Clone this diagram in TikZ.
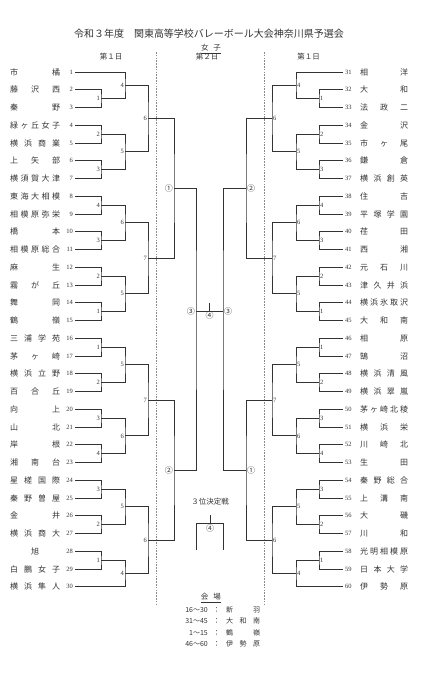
\documentclass[tikz,border=0pt]{standalone}
\usepackage{fontspec}
\setmainfont{Liberation Serif}
\newfontfamily\jp{Noto Sans CJK JP}
\usetikzlibrary{calc}
\definecolor{ink}{HTML}{333333}
\definecolor{rule}{HTML}{8A8A8A}
\tikzset{
  every node/.style={text=ink},
  bline/.style={draw=ink,line width=0.9pt},
  divline/.style={draw=rule,line width=0.6pt,dash pattern=on 1.6pt off 1.2pt},
  tnum/.style={font=\fontsize{6.5}{7}\selectfont,inner sep=2pt},
  tname/.style={font=\jp\fontsize{8}{9}\selectfont,inner sep=0pt,anchor=west},
  mnum/.style={font=\fontsize{6.5}{7}\selectfont,inner sep=1pt},
  cnum/.style={font=\jp\fontsize{8}{9}\selectfont,inner sep=1pt},
  ttl/.style={font=\jp\fontsize{10}{12}\selectfont},
  hdr/.style={font=\jp\fontsize{7.5}{9}\selectfont},
  lg/.style={font=\jp\fontsize{7}{8}\selectfont,inner sep=0pt},
}
\newcommand{\cc}[1]{{\jp\fontsize{8}{9}\selectfont#1}}
\newcommand{\lmatch}[5]{%
  \draw[bline] let \p1=(#2), \p2=(#3) in (#2) -| (#4,{0.5*(\y1+\y2)}) coordinate (#1) |- (#3);
  \node[mnum,anchor=east] at (#1) {#5};}
\newcommand{\rmatch}[5]{%
  \draw[bline] let \p1=(#2), \p2=(#3) in (#2) -| (#4,{0.5*(\y1+\y2)}) coordinate (#1) |- (#3);
  \node[mnum,anchor=west] at (#1) {#5};}

\begin{document}
\begin{tikzpicture}[x=1pt,y=-1pt]
\useasboundingbox (0,0) rectangle (425,680);

\node[ttl] (title) at (209,33.5) {令和３年度　関東高等学校バレーボール大会神奈川県予選会};
\node[hdr] (sex) at (211,49) {\underline{女\hspace{5pt}子}};
\node[hdr] (day1l) at (111,57) {第１日};
\node[hdr] (day2) at (207,57) {第２日};
\node[hdr] (day1r) at (308.5,57) {第１日};

\coordinate (v1a) at (156,52); \coordinate (v1b) at (156,606);
\coordinate (v2a) at (264,52); \coordinate (v2b) at (264,606);
\draw[divline] (v1a) -- (v1b);
\draw[divline] (v2a) -- (v2b);

\foreach \i/\nm in {1/{市 橘},2/{藤 沢 西},3/{秦 野},4/{緑 ヶ 丘 女 子},5/{横 浜 商 業},
  6/{上 矢 部},7/{横 須 賀 大 津},8/{東 海 大 相 模},9/{相 模 原 弥 栄},10/{橋 本},
  11/{相 模 原 総 合},12/{麻 生},13/{霧 が 丘},14/{舞 岡},15/{鶴 嶺},
  16/{三 浦 学 苑},17/{茅 ヶ 崎},18/{横 浜 立 野},19/{百 合 丘},20/{向 上},
  21/{山 北},22/{岸 根},23/{湘 南 台},24/{星 槎 国 際},25/{秦 野 曽 屋},
  26/{金 井},27/{横 浜 商 大},28/{\hfil 旭\hfil},29/{白 鵬 女 子},30/{横 浜 隼 人}}{
  \node[tnum,anchor=east] (n\i) at (75,{72+(\i-1)*17.75}) {\i};
  \node[tname] (t\i) at (10,{72+(\i-1)*17.75}) {\makebox[50pt][s]{\nm}};
}
\foreach \i/\nm in {31/{相 洋},32/{大 和},33/{法 政 二},34/{金 沢},35/{市 ヶ 尾},
  36/{鎌 倉},37/{横 浜 創 英},38/{住 吉},39/{平 塚 学 園},40/{荏 田},
  41/{西 湘},42/{元 石 川},43/{津 久 井 浜},44/{横 浜 氷 取 沢},45/{大 和 南},
  46/{相 原},47/{鵠 沼},48/{横 浜 清 風},49/{横 浜 翠 嵐},50/{茅 ヶ 崎 北 稜},
  51/{横 浜 栄},52/{川 崎 北},53/{生 田},54/{秦 野 総 合},55/{上 溝 南},
  56/{大 磯},57/{川 和},58/{光 明 相 模 原},59/{日 本 大 学},60/{伊 勢 原}}{
  \node[tnum,anchor=west] (n\i) at (343,{72+(\i-31)*17.75}) {\i};
  \node[tname] (t\i) at (360,{72+(\i-31)*17.75}) {\makebox[48pt][s]{\nm}};
}

% left, day 1
\lmatch{la1}{n2}{n3}{101}{1}
\lmatch{la4}{n1}{la1}{125}{4}
\lmatch{la2}{n4}{n5}{101}{2}
\lmatch{la3}{n6}{n7}{101}{3}
\lmatch{la5}{la2}{la3}{125}{5}
\lmatch{la6}{la4}{la5}{148}{6}
\lmatch{lb4}{n8}{n9}{101}{4}
\lmatch{lb3}{n10}{n11}{101}{3}
\lmatch{lb6}{lb4}{lb3}{125}{6}
\lmatch{lb2}{n12}{n13}{101}{2}
\lmatch{lb1}{n14}{n15}{101}{1}
\lmatch{lb5}{lb2}{lb1}{125}{5}
\lmatch{lb7}{lb6}{lb5}{148}{7}
\lmatch{lc1}{n16}{n17}{101}{1}
\lmatch{lc2}{n18}{n19}{101}{2}
\lmatch{lc5}{lc1}{lc2}{125}{5}
\lmatch{lc3}{n20}{n21}{101}{3}
\lmatch{lc4}{n22}{n23}{101}{4}
\lmatch{lc6}{lc3}{lc4}{125}{6}
\lmatch{lc7}{lc5}{lc6}{148}{7}
\lmatch{ld3}{n24}{n25}{101}{3}
\lmatch{ld2}{n26}{n27}{101}{2}
\lmatch{ld5}{ld3}{ld2}{125}{5}
\lmatch{ld1}{n28}{n29}{101}{1}
\lmatch{ld4}{ld1}{n30}{125}{4}
\lmatch{ld6}{ld5}{ld4}{148}{6}

% right, day 1
\rmatch{ra1}{n32}{n33}{319}{1}
\rmatch{ra4}{n31}{ra1}{296}{4}
\rmatch{ra2}{n34}{n35}{319}{2}
\rmatch{ra3}{n36}{n37}{319}{3}
\rmatch{ra5}{ra2}{ra3}{296}{5}
\rmatch{ra6}{ra4}{ra5}{272}{6}
\rmatch{rb4}{n38}{n39}{319}{4}
\rmatch{rb3}{n40}{n41}{319}{3}
\rmatch{rb6}{rb4}{rb3}{296}{6}
\rmatch{rb2}{n42}{n43}{319}{2}
\rmatch{rb1}{n44}{n45}{319}{1}
\rmatch{rb5}{rb2}{rb1}{296}{5}
\rmatch{rb7}{rb6}{rb5}{272}{7}
\rmatch{rc1}{n46}{n47}{319}{1}
\rmatch{rc2}{n48}{n49}{319}{2}
\rmatch{rc5}{rc1}{rc2}{296}{5}
\rmatch{rc3}{n50}{n51}{319}{3}
\rmatch{rc4}{n52}{n53}{319}{4}
\rmatch{rc6}{rc3}{rc4}{296}{6}
\rmatch{rc7}{rc5}{rc6}{272}{7}
\rmatch{rd3}{n54}{n55}{319}{3}
\rmatch{rd2}{n56}{n57}{319}{2}
\rmatch{rd5}{rd3}{rd2}{296}{5}
\rmatch{rd1}{n58}{n59}{319}{1}
\rmatch{rd4}{rd1}{n60}{296}{4}
\rmatch{rd6}{rd5}{rd4}{272}{6}

% day 2
\lmatch{lq1}{la6}{lb7}{174}{\cc{①}}
\lmatch{lq2}{lc7}{ld6}{174}{\cc{②}}
\rmatch{rq2}{ra6}{rb7}{246}{\cc{②}}
\rmatch{rq1}{rc7}{rd6}{246}{\cc{①}}
\draw[bline] (lq1) -| (196,311) coordinate (ls) |- (lq2);
\draw[bline] (rq2) -| (223,311) coordinate (rs) |- (rq1);
\node[cnum,anchor=east] at (ls) {③};
\node[cnum,anchor=west] at (rs) {③};
\draw[bline] (ls) -- (rs);
\coordinate (fin) at ($(ls)!0.5!(rs)$);
\draw[bline] (fin) -- ++(0,-8.5);
\node[cnum,anchor=north] at (fin) {④};

\node[hdr] (third) at (210,501.7) {３位決定戦};
\coordinate (tq) at (210,523.3);
\coordinate (tpl) at (196,550);
\coordinate (tpr) at (223,550);
\draw[bline] (tpl) |- (tq) -| (tpr);
\draw[bline] (tq) -- ++(0,-8.3);
\node[cnum,anchor=north] at (tq) {④};

\node[hdr] (venue) at (210.8,598) {\underline{会\hspace{5pt}場}};
\foreach \k/\rg/\vn in {0/16～30/{新 羽},1/31～45/{大 和 南},2/1～15/{鶴 嶺},3/46～60/{伊 勢 原}}{
  \node[lg,anchor=east] (vr\k) at (208,{610+\k*11.3}) {\rg};
  \node[lg] (vc\k) at (216.7,{610+\k*11.3}) {：};
  \node[lg,anchor=west] (vn\k) at (226,{610+\k*11.3}) {\makebox[34pt][s]{\vn}};
}
\end{tikzpicture}
\end{document}
